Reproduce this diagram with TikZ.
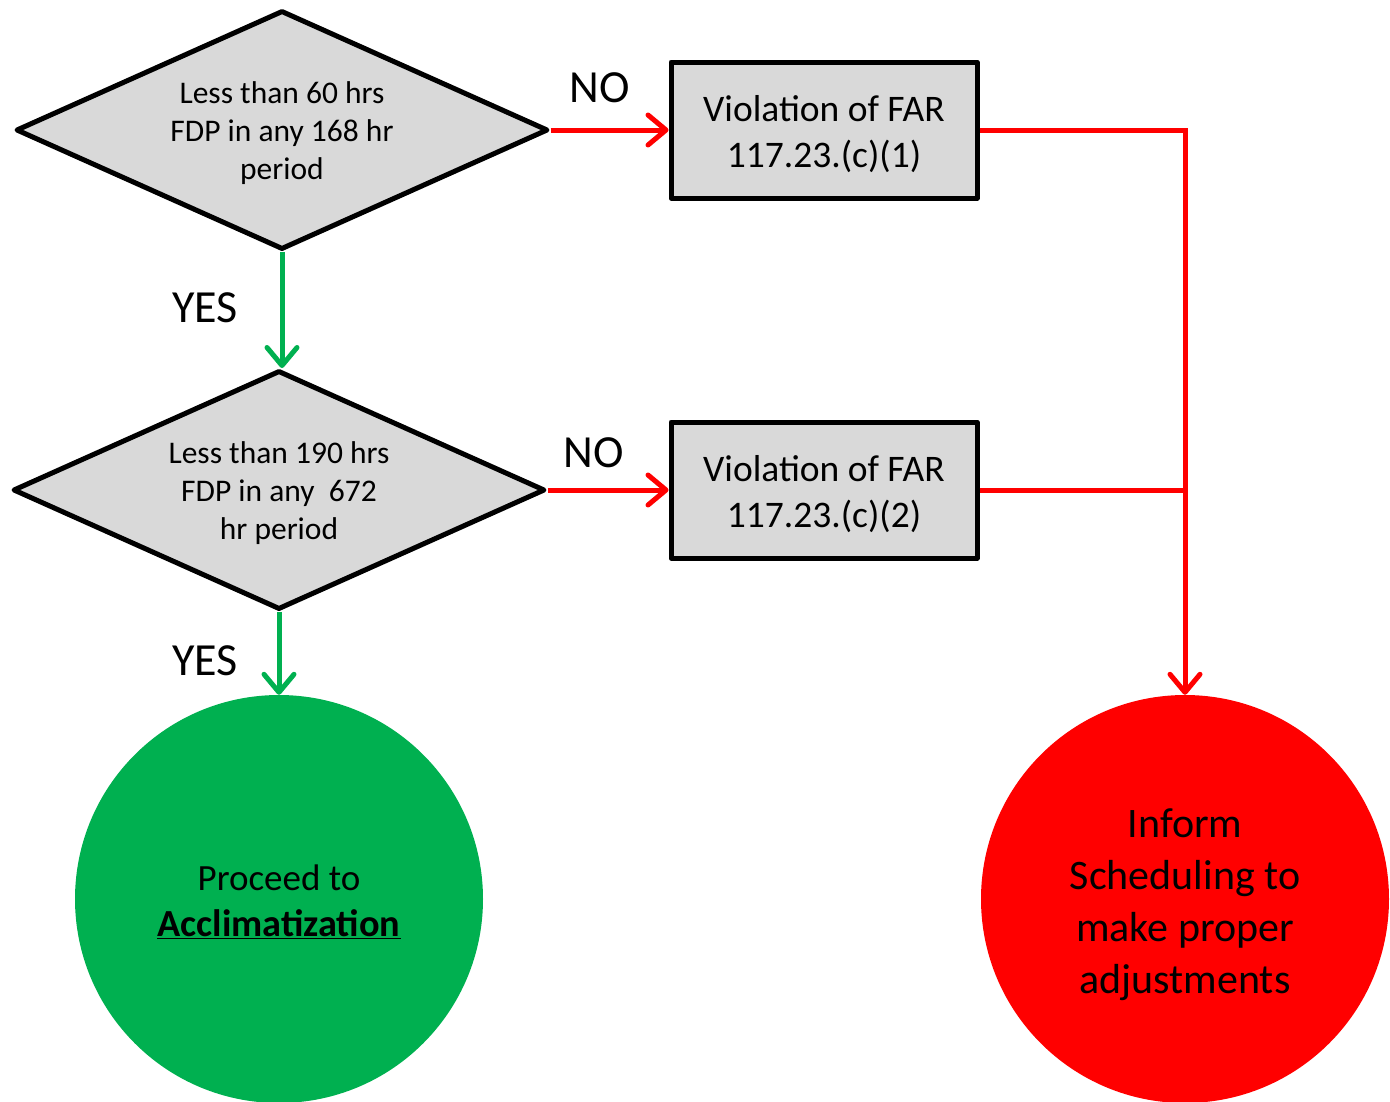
\documentclass[tikz,border=0pt]{standalone}
\usepackage{fontspec}
\setmainfont{Carlito}
\usetikzlibrary{shapes.geometric,arrows.meta}
\definecolor{boxgray}{HTML}{D9D9D9}
\definecolor{okgreen}{HTML}{00B050}
\definecolor{badred}{HTML}{FF0000}
\tikzset{
  decision/.style={diamond, draw=black, fill=boxgray, line width=5pt, line join=round, inner sep=0pt, minimum width=532pt, minimum height=239pt},
  dtext/.style={align=center, inner sep=0pt, font=\fontsize{31.5}{38}\selectfont},
  violation/.style={rectangle, draw=black, fill=boxgray, line width=5pt, line join=round, minimum width=306pt, minimum height=136pt},
  vtext/.style={align=center, inner sep=0pt, font=\fontsize{37.5}{46}\selectfont},
  endpoint/.style={circle, draw=none, minimum size=408pt, inner sep=0pt},
  etext/.style={align=center, inner sep=0pt},
  redline/.style={draw=badred, line width=5pt},
  greenline/.style={draw=okgreen, line width=5pt},
  tip/.style={-{Straight Barb[length=18pt,width=30pt,line cap=round,line join=round]}},
  answer/.style={font=\fontsize{46}{52}\selectfont, inner sep=0pt}
}
\begin{document}
\begin{tikzpicture}[x=1pt,y=-1pt]
\useasboundingbox (0,0) rectangle (1390,1101);
\node[decision] (d1) at (282,130) {};
\node[dtext] (d1t) at ([yshift=-3pt]d1.center) {Less than 60 hrs\\FDP in any 168 hr\\period};
\node[decision] (d2) at (279,490) {};
\node[dtext] (d2t) at ([yshift=-3pt]d2.center) {Less than 190 hrs\\FDP in any\ \ 672\\hr period};
\node[violation] (v1) at (824,130) {};
\node[vtext] (v1t) at ([yshift=-4pt]v1.center) {Violation of FAR\\117.23.(c)(1)};
\node[violation] (v2) at (824,490) {};
\node[vtext] (v2t) at ([yshift=-4pt]v2.center) {Violation of FAR\\117.23.(c)(2)};
\node[endpoint, fill=okgreen] (g) at (279,899) {};
\node[etext, font=\fontsize{37}{46}\selectfont] (gt) at ([yshift=-3pt]g.center) {Proceed to\\{\fontsize{38.3}{46}\selectfont\underline{\textbf{Acclimatization}}}};
\node[endpoint, fill=badred] (r) at (1185,899) {};
\node[etext, font=\fontsize{42}{52}\selectfont] (rt) at ([yshift=-6pt]r.center) {Inform\\Scheduling to\\make proper\\adjustments};
\coordinate (j1) at (1185,130);
\coordinate (j2) at (1185,490);
\node[answer] (no1) at (600,88) {NO};
\node[answer] (no2) at (594,453) {NO};
\node[answer] (yes1) at (205,308) {YES};
\node[answer] (yes2) at (205,661) {YES};
\draw[redline, tip] (d1.east) -- (v1.west);
\draw[redline, tip] (d2.east) -- (v2.west);
\draw[greenline, tip] (d1.south) -- (d2.north -| d1.south);
\draw[greenline, tip] (d2.south) -- (g.north);
\draw[redline, line join=miter] (v1.east) -- (j1) -- (j2);
\draw[redline, tip] (j2) -- (r.north);
\draw[redline] (v2.east) -- (j2);
\end{tikzpicture}
\end{document}
